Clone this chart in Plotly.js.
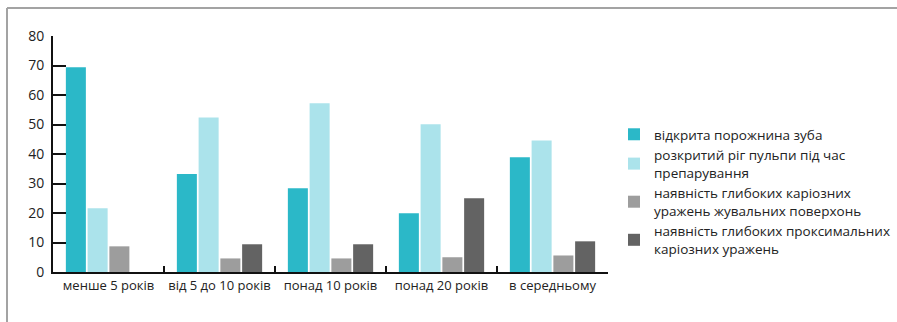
<!DOCTYPE html>
<html>
<head>
<meta charset="utf-8">
<script src="https://cdn.plot.ly/plotly-3.0.1.min.js"></script>
<style>
  html, body { margin: 0; padding: 0; background: #fff; }
  #chart { width: 897px; height: 322px; }
</style>
</head>
<body>
<div id="chart"></div>
<script>
// Age groups (x axis categories)
const categories = ['менше 5 років', 'від 5 до 10 років', 'понад 10 років', 'понад 20 років', 'в середньому'];

// Series names (legend)
const seriesNames = [
  'відкрита порожнина зуба',
  'розкритий ріг пульпи під час<br>препарування',
  'наявність глибоких каріозних<br>уражень жувальних поверхонь',
  'наявність глибоких проксимальних<br>каріозних уражень'
];

// Series values, %
const openCavity      = [69.4, 33.2, 28.4, 19.9, 38.9];
const exposedPulpHorn = [21.6, 52.4, 57.2, 50.1, 44.6];
const deepOcclusal    = [8.7, 4.6, 4.6, 5.0, 5.6];
const deepProximal    = [0, 9.4, 9.4, 25.0, 10.4];

const yTicks = [0, 10, 20, 30, 40, 50, 60, 70, 80];

const colors = ['#2bb8c8', '#abe3eb', '#9d9d9d', '#636363'];
const seriesValues = [openCavity, exposedPulpHorn, deepOcclusal, deepProximal];

const traces = seriesValues.map((vals, i) => ({
  type: 'bar',
  name: seriesNames[i],
  x: categories,
  y: vals,
  marker: { color: colors[i], line: { width: 0 } },
  hoverinfo: 'x+y'
}));

// Plot area in pixels
const W = 897, H = 322;
const M = { l: 53, r: 289, t: 36, b: 50 };
const pw = W - M.l - M.r, ph = H - M.t - M.b;
const px = x => (x - M.l) / pw;
const py = y => (H - M.b - y) / ph;

const frameColor = '#a3a3a3';

const layout = {
  width: W,
  height: H,
  margin: M,
  paper_bgcolor: '#ffffff',
  plot_bgcolor: '#ffffff',
  font: { family: 'Open Sans, sans-serif', size: 13, color: '#222222' },
  barmode: 'group',
  bargap: 0.216,
  bargroupgap: 0.08,
  showlegend: true,
  legend: {
    xref: 'container',
    yref: 'container',
    x: 614 / W,
    y: 1 - 119 / H,
    xanchor: 'left',
    yanchor: 'top',
    font: { family: 'Open Sans, sans-serif', size: 13.5, color: '#222222' },
    bgcolor: 'rgba(0,0,0,0)',
    traceorder: 'normal'
  },
  xaxis: {
    type: 'category',
    showline: true,
    linecolor: '#111111',
    linewidth: 2,
    ticks: 'inside',
    tickson: 'boundaries',
    ticklen: 6,
    tickwidth: 2,
    tickcolor: '#111111',
    tickangle: 0,
    showgrid: false,
    zeroline: false,
    tickfont: { family: 'Open Sans, sans-serif', size: 13, color: '#222222' },
    fixedrange: true
  },
  yaxis: {
    range: [0, 80],
    tickvals: yTicks,
    ticktext: yTicks.map(String),
    showline: true,
    linecolor: '#111111',
    linewidth: 2,
    ticks: 'inside',
    ticklen: 13,
    tickwidth: 2,
    tickcolor: '#111111',
    showgrid: false,
    zeroline: false,
    ticklabelstandoff: 4,
    tickfont: { family: 'Open Sans, sans-serif', size: 14, color: '#222222' },
    fixedrange: true
  },
  shapes: [
    // outer frame: top and left edges
    { type: 'line', xref: 'paper', yref: 'paper', x0: px(7), x1: px(910), y0: py(8), y1: py(8),
      line: { color: frameColor, width: 2 } },
    { type: 'line', xref: 'paper', yref: 'paper', x0: px(7), x1: px(7), y0: py(8), y1: py(330),
      line: { color: frameColor, width: 2 } }
  ]
};

Plotly.newPlot('chart', traces, layout, { displayModeBar: false, staticPlot: true });
</script>
</body>
</html>
